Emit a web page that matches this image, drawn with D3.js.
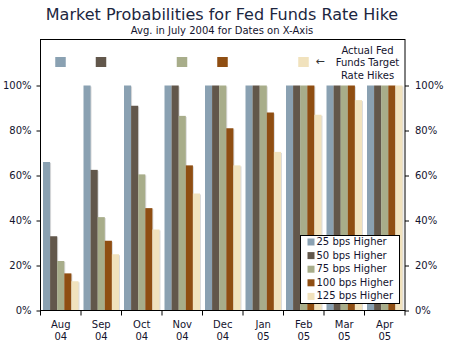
<!DOCTYPE html>
<html>
<head>
<meta charset="utf-8">
<script src="https://cdn.jsdelivr.net/npm/d3@7"></script>
<style>
  body { margin: 0; background: #fff; }
  svg text { font-family: "DejaVu Sans", Verdana, sans-serif; fill: #14142e; }
</style>
</head>
<body>
<div id="chart"></div>
<script>
// Chart data

var months = ["Aug|04", "Sep|04", "Oct|04", "Nov|04", "Dec|04", "Jan|05", "Feb|05", "Mar|05", "Apr|05"];
var seriesNames = ["25 bps Higher", "50 bps Higher", "75 bps Higher", "100 bps Higher", "125 bps Higher"];
var hike25 = [66, 100, 100, 100, 100, 100, 100, 100, 100];
var hike50 = [33, 62.5, 91, 100, 100, 100, 100, 100, 100];
var hike75 = [22, 41.5, 60.5, 86.5, 100, 100, 100, 100, 100];
var hike100 = [16.5, 31, 45.5, 64.5, 81, 88, 100, 100, 100];
var hike125 = [13, 25, 36, 52, 64.5, 70.5, 87, 93.5, 100];
var yTicks = [0, 20, 40, 60, 80, 100];
// month where each actual hike size was reached, per series
var actualHikeMonth = ["Aug|04", "Sep|04", "Nov|04", "Dec|04", "Feb|05"];

var colors = ["#8aa1b2", "#62574b", "#a8ad8a", "#8f4e12", "#f1e2bd"];
var values = [hike25, hike50, hike75, hike100, hike125];

var width = 453, height = 348;
var margin = {top: 39.5, right: 48, bottom: 38, left: 40.5};
var plotW = width - margin.left - margin.right,
    plotH = 310.5 - margin.top;

var svg = d3.select("#chart").append("svg")
    .attr("width", width)
    .attr("height", height);

// Titles
svg.append("text")
    .attr("x", 222).attr("y", 20)
    .attr("text-anchor", "middle")
    .style("font-size", "16px")
    .style("fill", "#1c2640")
    .text("Market Probabilities for Fed Funds Rate Hike");

svg.append("text")
    .attr("x", 222).attr("y", 33.5)
    .attr("text-anchor", "middle")
    .style("font-size", "10px")
    .text("Avg. in July 2004 for Dates on X-Axis");

var g = svg.append("g")
    .attr("transform", "translate(" + margin.left + "," + margin.top + ")");

var x = d3.scaleBand()
    .domain(months)
    .range([0, plotW]);

var xInner = d3.scaleBand()
    .domain(d3.range(seriesNames.length))
    .range([2.5, x.bandwidth() - 2.5]);

// 100% sits 225px above the baseline, headroom up to 120%
var y = d3.scaleLinear()
    .domain([0, 120])
    .range([plotH, plotH - 270]);

// Bars
var rows = [];
values.forEach(function(arr, s) {
    arr.forEach(function(v, i) {
        rows.push({month: months[i], s: s, v: v});
    });
});

g.selectAll(".shadow")
    .data(rows)
    .enter().append("rect")
    .attr("class", "shadow")
    .attr("x", function(d) { return x(d.month) + xInner(d.s) + 1; })
    .attr("y", function(d) { return y(d.v) + 1; })
    .attr("width", xInner.bandwidth())
    .attr("height", function(d) { return plotH - y(d.v) - 1; })
    .attr("fill", "#dcdcdc");

g.selectAll(".bar")
    .data(rows)
    .enter().append("rect")
    .attr("class", "bar")
    .attr("x", function(d) { return x(d.month) + xInner(d.s); })
    .attr("y", function(d) { return y(d.v); })
    .attr("width", xInner.bandwidth())
    .attr("height", function(d) { return plotH - y(d.v); })
    .attr("fill", function(d) { return colors[d.s]; });

// Frame
g.append("rect")
    .attr("width", plotW)
    .attr("height", plotH)
    .attr("fill", "none")
    .attr("stroke", "#000");

// Axes
var fmt = function(d) { return d + "%"; };

var leftAxis = g.append("g")
    .call(d3.axisLeft(y).tickValues(yTicks).tickFormat(fmt).tickSize(4).tickPadding(5));
var rightAxis = g.append("g")
    .attr("transform", "translate(" + plotW + ",0)")
    .call(d3.axisRight(y).tickValues(yTicks).tickFormat(fmt).tickSize(4).tickPadding(6));

[leftAxis, rightAxis].forEach(function(ax) {
    ax.select(".domain").remove();
    ax.selectAll("text").style("font-size", "10px").attr("fill", null);
    ax.selectAll("line").attr("stroke", "#000");
});

// Category boundary ticks along the bottom
var bottom = g.append("g").attr("transform", "translate(0," + plotH + ")");
bottom.selectAll(".xtick")
    .data(d3.range(months.length + 1))
    .enter().append("line")
    .attr("x1", function(i) { return i * x.step(); })
    .attr("x2", function(i) { return i * x.step(); })
    .attr("y1", 0).attr("y2", 5)
    .attr("stroke", "#000");

var xl = bottom.selectAll(".xlabel")
    .data(months)
    .enter().append("text")
    .attr("text-anchor", "middle")
    .style("font-size", "10px")
    .attr("transform", function(d) { return "translate(" + (x(d) + x.bandwidth() / 2) + ",0)"; });
xl.append("tspan").attr("x", 0).attr("y", 17).text(function(d) { return d.split("|")[0]; });
xl.append("tspan").attr("x", 0).attr("y", 29).text(function(d) { return d.split("|")[1]; });

// Markers for actual target rate hikes
g.selectAll(".hike")
    .data(actualHikeMonth)
    .enter().append("rect")
    .attr("x", function(d) { return x(d) + x.bandwidth() / 2 - 5.5; })
    .attr("y", 17.5)
    .attr("width", 10.5)
    .attr("height", 10)
    .attr("fill", function(d, i) { return colors[i]; });

g.append("text")
    .attr("x", 275).attr("y", 25)
    .style("font-size", "11px")
    .style("fill", "#333")
    .text("\u2190");

var note = g.append("text")
    .attr("text-anchor", "middle")
    .style("font-size", "10px");
["Actual Fed", "Funds Target", "Rate Hikes"].forEach(function(t, i) {
    note.append("tspan").attr("x", 327).attr("y", 14 + i * 12.5).text(t);
});

// Legend
var legend = svg.append("g").attr("transform", "translate(300.5,235.5)");
legend.append("rect")
    .attr("width", 99)
    .attr("height", 68)
    .attr("fill", "#fff")
    .attr("stroke", "#000");

var item = legend.selectAll(".item")
    .data(seriesNames)
    .enter().append("g")
    .attr("transform", function(d, i) { return "translate(0," + (9.5 + i * 13.6) + ")"; });
item.append("rect")
    .attr("x", 7).attr("y", -6.5)
    .attr("width", 7).attr("height", 7)
    .attr("fill", function(d, i) { return colors[i]; });
item.append("text")
    .attr("x", 16).attr("y", 0)
    .style("font-size", "10px")
    .text(function(d) { return d; });
</script>
</body>
</html>
